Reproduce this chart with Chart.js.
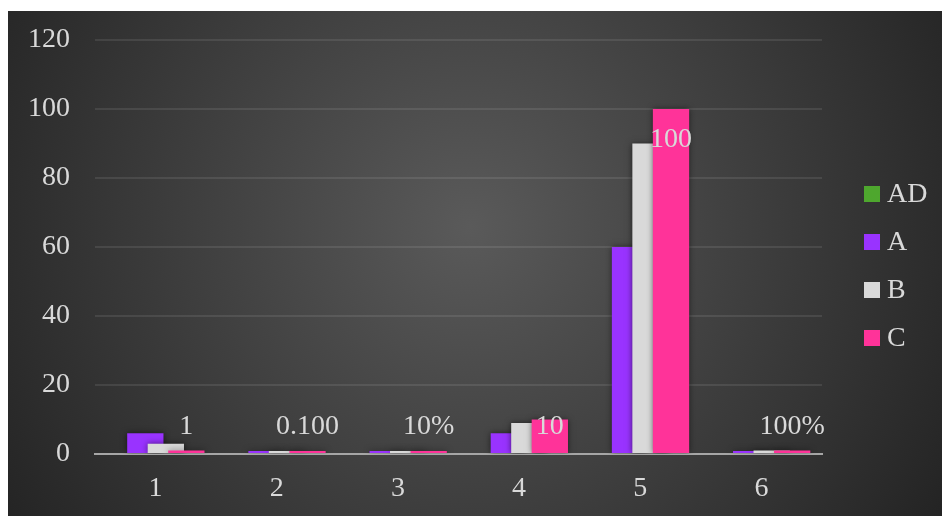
<!DOCTYPE html>
<html>
<head>
<meta charset="utf-8">
<script src="https://cdn.jsdelivr.net/npm/chart.js@4.4.1/dist/chart.umd.min.js"></script>
<style>
html,body{margin:0;padding:0;background:#fff;}
#wrap{position:absolute;left:8px;top:11px;width:934px;height:505px;}
</style>
</head>
<body>
<div id="wrap"><canvas id="chart"></canvas></div>
<script>

/* ================= DATA ================= */
const categories=["1","2","3","4","5","6"];
const seriesNames=["AD","A","B","C"];
const adValues=[0,0,0,0,0,0];
const aValues=[6,0.8,0.8,6,60,0.8];
const bValues=[3,0.5,0.5,9,90,1];
const cValues=[1,0.1,0.1,10,100,1];
const cLabels=["1","0.100","10%","10","100","100%"];
const yTicks=[0,20,40,60,80,100,120];

const FONT="'Liberation Serif','Times New Roman',serif";
const TEXT="#d9d9d9";

/* ================= PLUGINS ================= */
const bgPlugin={
id:"bg",
beforeDraw(chart){
const {ctx,width,height}=chart;
const g=ctx.createRadialGradient(462,215,0,462,215,560);
g.addColorStop(0,"#5a5a5a");
g.addColorStop(1,"#232323");
ctx.save();
ctx.fillStyle=g;
ctx.fillRect(0,0,width,height);
ctx.restore();
}
};

/* draw later series on top, with a soft shadow, then the C labels */
const barPlugin={
id:"bars",
beforeDatasetsDraw(chart){
const ctx=chart.ctx;
const metas=chart.getSortedVisibleDatasetMetas();
ctx.save();
ctx.shadowColor="rgba(0,0,0,0.55)";
ctx.shadowBlur=6;
metas.forEach(meta=>chart._drawDataset(meta));
ctx.restore();

const cMeta=chart.getDatasetMeta(3);
const base=chart.scales.y.getPixelForValue(0);
ctx.save();
ctx.font="28px "+FONT;
ctx.fillStyle=TEXT;
ctx.textAlign="center";
ctx.textBaseline="middle";
cMeta.data.forEach((bar,i)=>{
const y=Math.min(bar.y+31,base-27);
ctx.fillText(cLabels[i],bar.x,y);
});
ctx.restore();
return false;
}
};

const legendPlugin={
id:"sideLegend",
afterDraw(chart){
const ctx=chart.ctx;
ctx.save();
ctx.font="28px "+FONT;
ctx.textBaseline="middle";
ctx.textAlign="left";
chart.data.datasets.forEach((ds,i)=>{
const cy=183+i*48;
ctx.fillStyle=ds.backgroundColor;
ctx.fillRect(856,cy-8,16,16);
ctx.fillStyle=TEXT;
ctx.fillText(ds.label,879,cy+1);
});
ctx.restore();
}
};

/* ================= CHART ================= */
const colors=["#4ea72e","#9933ff","#d9d9d9","#ff3399"];
const values=[adValues,aValues,bValues,cValues];

new Chart(
document.getElementById("chart"),
{
type:"bar",
data:{
labels:categories,
datasets:seriesNames.map((name,i)=>({
label:name,
data:values[i],
backgroundColor:colors[i],
borderWidth:0,
minBarLength:i===0?undefined:3,
categoryPercentage:0.677,
barPercentage:1.77
}))
},
plugins:[bgPlugin,barPlugin,legendPlugin],
options:{
responsive:true,
maintainAspectRatio:false,
animation:false,
layout:{
padding:{left:0,top:29,right:120,bottom:0}
},
plugins:{
legend:{display:false},
tooltip:{enabled:false}
},
scales:{
x:{
grid:{display:false,drawTicks:false},
border:{display:true,color:"#a6a6a6",width:2},
ticks:{color:TEXT,font:{family:FONT,size:28},padding:18},
afterFit(s){s.height=62;s.paddingLeft=0;s.paddingRight=0;}
},
y:{
min:0,
max:120,
afterBuildTicks(s){s.ticks=yTicks.map(v=>({value:v}));},
grid:{color:"rgba(255,255,255,0.09)",lineWidth:2,drawTicks:false},
border:{display:false},
ticks:{color:TEXT,font:{family:FONT,size:28},padding:25},
afterFit(s){s.width=87;s.paddingTop=0;s.paddingBottom=0;}
}
}
}
}
);

</script>
</body>
</html>
